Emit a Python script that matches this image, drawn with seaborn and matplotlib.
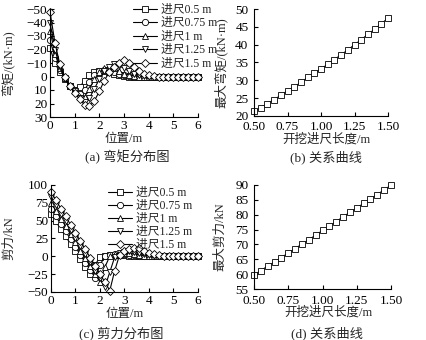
import numpy as np
import pandas as pd
import matplotlib
matplotlib.use("Agg")
import matplotlib.pyplot as plt
import seaborn as sns

# ---------------- data ----------------
pos = [0.0, 0.2, 0.4, 0.6, 0.8, 1.0, 1.2, 1.4, 1.6, 1.8, 2.0, 2.2, 2.4, 2.6, 2.8, 3.0,
       3.2, 3.4, 3.6, 3.8, 4.0, 4.2, 4.4, 4.6, 4.8, 5.0, 5.2, 5.4, 5.6, 5.8, 6.0]

series_labels = ["进尺0.5 m", "进尺0.75 m", "进尺1 m", "进尺1.25 m", "进尺1.5 m"]

moment_05 = [-21, -10, -3, 2, 7, 10, 8, 3, -1, -3, -4, -4, -3, -2, -1, -0.5,
             0, 0, 0, 0, 0, 0, 0, 0, 0, 0, 0, 0, 0, 0, 0]
moment_075 = [-27, -14, -5, 1, 7, 10, 13, 10, 4, -1, -4, -5, -5, -3, -2, -1,
              -0.5, 0, 0, 0, 0, 0, 0, 0, 0, 0, 0, 0, 0, 0, 0]
moment_10 = [-34, -17, -6, 1, 7, 11, 15, 15, 9, 2, -3, -6, -7, -6, -4, -2,
             -1, -0.5, 0, 0, 0, 0, 0, 0, 0, 0, 0, 0, 0, 0, 0]
moment_125 = [-40, -20, -7, 1, 7, 11, 16, 19, 16, 9, 2, -4, -7, -9, -8, -6,
              -4, -2, -1, -0.5, 0, 0, 0, 0, 0, 0, 0, 0, 0, 0, 0]
moment_15 = [-48, -25, -9, 0, 7, 12, 17, 21, 22, 18, 11, 3, -3, -7, -10, -12,
             -10, -7, -4, -2, -1, -0.5, 0, 0, 0, 0, 0, 0, 0, 0, 0]

shear_05 = [60, 49, 38, 28, 17, 7, -4, -15, -25, -12, -1, 1, 2, 2, 2, 1.5,
            1, 1, 0.5, 0, 0, 0, 0, 0, 0, 0, 0, 0, 0, 0, 0]
shear_075 = [67, 56, 45, 35, 24, 13, 2, -9, -19, -30, -12, 0, 2, 3, 3, 3,
             2, 2, 1, 1, 0.5, 0, 0, 0, 0, 0, 0, 0, 0, 0, 0]
shear_10 = [75, 64, 53, 42, 31, 20, 8, -3, -14, -25, -36, -15, 0, 3, 4, 4,
            4, 3, 2, 1, 1, 0.5, 0, 0, 0, 0, 0, 0, 0, 0, 0]
shear_125 = [83, 72, 60, 49, 37, 26, 15, 3, -8, -20, -31, -43, -22, -1, 4, 6,
             7, 6, 5, 3, 2, 1, 0.5, 0, 0, 0, 0, 0, 0, 0, 0]
shear_15 = [90, 79, 67, 56, 44, 33, 21, 10, -2, -13, -25, -36, -48, -20, 2, 7,
            10, 12, 11, 8, 5, 3, 2, 1, 0.5, 0, 0, 0, 0, 0, 0]

advance = [0.50, 0.55, 0.60, 0.65, 0.70, 0.75, 0.80, 0.85, 0.90, 0.95, 1.00,
           1.05, 1.10, 1.15, 1.20, 1.25, 1.30, 1.35, 1.40, 1.45, 1.50]
max_moment = [21.3, 22.3, 23.5, 24.6, 25.8, 27.1, 28.2, 29.4, 30.8, 32.0, 33.2,
              34.5, 35.8, 37.2, 38.5, 40.0, 41.4, 42.9, 44.3, 45.9, 47.4]
max_shear = [59.7, 61.2, 62.7, 64.1, 65.6, 67.1, 68.6, 70.1, 71.6, 73.1, 74.7,
             76.2, 77.7, 79.3, 80.8, 82.3, 83.8, 85.3, 86.8, 88.4, 89.9]

moment_ticks = [-50, -40, -30, -20, -10, 0, 10, 20, 30]
shear_ticks = [100, 75, 50, 25, 0, -25, -50]
advance_ticks = [0.50, 0.75, 1.00, 1.25, 1.50]
max_moment_ticks = [20, 25, 30, 35, 40, 45, 50]
max_shear_ticks = [55, 60, 65, 70, 75, 80, 85, 90]

# ---------------- style ----------------
sns.set_style("ticks")
plt.rcParams["font.family"] = ["Liberation Serif", "Noto Sans CJK SC"]
plt.rcParams["axes.unicode_minus"] = True
plt.rcParams["xtick.direction"] = "in"
plt.rcParams["ytick.direction"] = "in"
plt.rcParams["xtick.major.size"] = 3
plt.rcParams["ytick.major.size"] = 3
plt.rcParams["xtick.major.width"] = 0.8
plt.rcParams["ytick.major.width"] = 0.8
plt.rcParams["axes.linewidth"] = 0.8
plt.rcParams["axes.edgecolor"] = "black"
plt.rcParams["xtick.color"] = "black"
plt.rcParams["ytick.color"] = "black"

TICK_FS = 9.5
LABEL_FS = 9
LEGEND_FS = 8.5
CAPTION_FS = 9.5
markers = ["s", "o", "^", "v", "D"]
msizes = [4.2, 4.5, 4.5, 4.5, 3.8]

fig = plt.figure(figsize=(4.27, 3.40), dpi=100)
fig.patch.set_facecolor("white")

W, H = 427.0, 340.0
def add_axes(left, right, top, bottom):
    return fig.add_axes([left / W, 1 - bottom / H, (right - left) / W, (bottom - top) / H])

ax_a = add_axes(50, 198, 9, 117)
ax_b = add_axes(254, 388, 9, 116)
ax_c = add_axes(51, 198, 185, 292)
ax_d = add_axes(254, 391, 185, 289)


def draw_series(ax, ys_list):
    for lab, ys, mk, ms in zip(series_labels, ys_list, markers, msizes):
        sns.lineplot(x=pos, y=ys, ax=ax, color="black", linewidth=0.8,
                     marker=mk, markersize=ms, markerfacecolor="white",
                     markeredgecolor="black", markeredgewidth=0.6,
                     label=lab, clip_on=False, sort=False)


def style_axes(ax, xpad=2, ypad=2):
    sns.despine(ax=ax)
    ax.tick_params(axis="x", labelsize=TICK_FS, pad=xpad)
    ax.tick_params(axis="y", labelsize=TICK_FS, pad=ypad)
    for t in ax.get_xticklabels() + ax.get_yticklabels():
        t.set_fontsize(TICK_FS)


# (a) moment distribution
draw_series(ax_a, [moment_05, moment_075, moment_10, moment_125, moment_15])
ax_a.set_xlim(0, 6)
ax_a.set_ylim(30, -50)
ax_a.set_yticks(moment_ticks)
ax_a.set_xticks([0, 1, 2, 3, 4, 5, 6])
ax_a.set_xlabel("位置/m", fontsize=LABEL_FS)
ax_a.set_ylabel("弯矩/(kN·m)", fontsize=LABEL_FS)
ax_a.xaxis.set_label_coords(0.5, -0.15)
ax_a.yaxis.set_label_coords(-0.24, 0.5)
style_axes(ax_a)
ax_a.legend(loc="upper left", bbox_to_anchor=(133 / W, 1 - 4 / H),
            bbox_transform=fig.transFigure, frameon=False, fontsize=LEGEND_FS,
            borderpad=0, borderaxespad=0, handlelength=2.0, handletextpad=0.4,
            labelspacing=0.12)

# (b) max moment vs advance
sns.lineplot(x=advance, y=max_moment, ax=ax_b, color="black", linewidth=0.8,
             marker="s", markersize=4.8, markerfacecolor="white",
             markeredgecolor="black", markeredgewidth=0.6, clip_on=False)
ax_b.set_xlim(0.5, 1.5)
ax_b.set_ylim(20, 50)
ax_b.set_xticks(advance_ticks)
ax_b.set_xticklabels([f"{v:.2f}" for v in advance_ticks])
ax_b.set_yticks(max_moment_ticks)
ax_b.set_xlabel("开挖进尺长度/m", fontsize=LABEL_FS)
ax_b.set_ylabel("最大弯矩/(kN·m)", fontsize=LABEL_FS)
ax_b.xaxis.set_label_coords(0.54, -0.165)
ax_b.yaxis.set_label_coords(-0.2, 0.5)
style_axes(ax_b, xpad=3.5, ypad=4)

# (c) shear distribution
draw_series(ax_c, [shear_05, shear_075, shear_10, shear_125, shear_15])
ax_c.set_xlim(0, 6)
ax_c.set_ylim(-50, 100)
ax_c.set_yticks(shear_ticks)
ax_c.set_xticks([0, 1, 2, 3, 4, 5, 6])
ax_c.set_xlabel("位置/m", fontsize=LABEL_FS)
ax_c.set_ylabel("剪力/kN", fontsize=LABEL_FS)
ax_c.xaxis.set_label_coords(0.5, -0.145)
ax_c.yaxis.set_label_coords(-0.245, 0.5)
style_axes(ax_c)
ax_c.legend(loc="upper left", bbox_to_anchor=(108 / W, 1 - 187 / H),
            bbox_transform=fig.transFigure, frameon=False, fontsize=LEGEND_FS,
            borderpad=0, borderaxespad=0, handlelength=2.0, handletextpad=0.4,
            labelspacing=0.08)

# (d) max shear vs advance
sns.lineplot(x=advance, y=max_shear, ax=ax_d, color="black", linewidth=0.8,
             marker="s", markersize=4.8, markerfacecolor="white",
             markeredgecolor="black", markeredgewidth=0.6, clip_on=False)
ax_d.set_xlim(0.5, 1.5)
ax_d.set_ylim(55, 90)
ax_d.set_xticks(advance_ticks)
ax_d.set_xticklabels([f"{v:.2f}" for v in advance_ticks])
ax_d.set_yticks(max_shear_ticks)
ax_d.set_xlabel("开挖进尺长度/m", fontsize=LABEL_FS)
ax_d.set_ylabel("最大剪力/kN", fontsize=LABEL_FS)
ax_d.xaxis.set_label_coords(0.54, -0.17)
ax_d.yaxis.set_label_coords(-0.2, 0.5)
style_axes(ax_d, xpad=4.5, ypad=4)

# captions
fig.text(127 / W, 1 - 157 / H, "(a) 弯矩分布图", ha="center", va="center", fontsize=CAPTION_FS)
fig.text(326 / W, 1 - 157 / H, "(b) 关系曲线", ha="center", va="center", fontsize=CAPTION_FS)
fig.text(121 / W, 1 - 333 / H, "(c) 剪力分布图", ha="center", va="center", fontsize=CAPTION_FS)
fig.text(327 / W, 1 - 333 / H, "(d) 关系曲线", ha="center", va="center", fontsize=CAPTION_FS)

fig.savefig("out.png", dpi=100, facecolor="white")
